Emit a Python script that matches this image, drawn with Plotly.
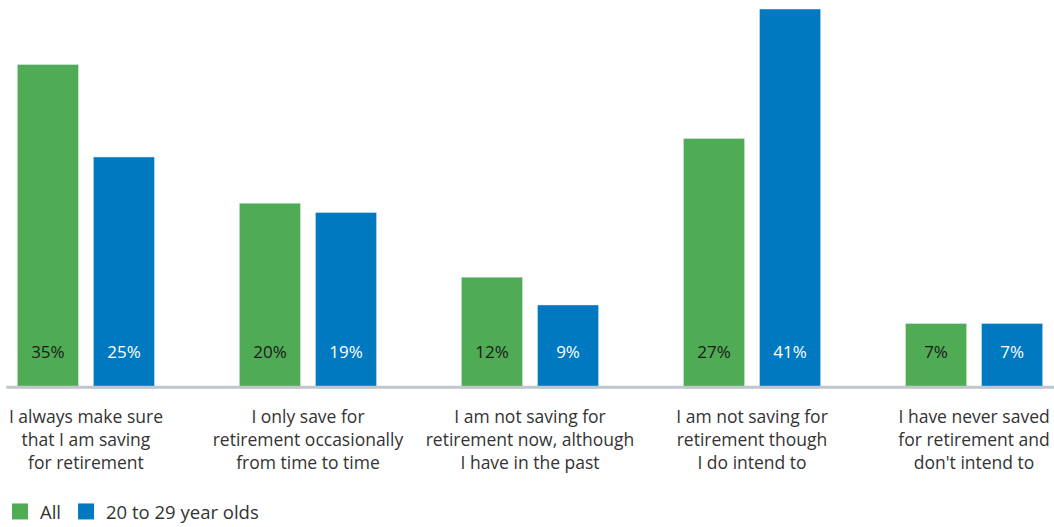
import plotly.graph_objects as go

categories = [
    "I always make sure<br>that I am saving<br>for retirement",
    "I only save for<br>retirement occasionally<br>from time to time",
    "I am not saving for<br>retirement now, although<br>I have in the past",
    "I am not saving for<br>retirement though<br>I do intend to",
    "I have never saved<br>for retirement and<br>don't intend to",
]
all_vals = [35, 20, 12, 27, 7]
young_vals = [25, 19, 9, 41, 7]

GREEN = "#50ab55"
BLUE = "#0079c1"
FONT = "Open Sans, sans-serif"

fig = go.Figure()
fig.add_trace(go.Bar(
    x=categories, y=all_vals, name="All", marker_color=GREEN, showlegend=False,
    text=[f"{v}%<br> " for v in all_vals], textposition="inside",
    insidetextanchor="start", textangle=0,
    insidetextfont=dict(color="#1a1a1a", size=17, family=FONT),
))
fig.add_trace(go.Bar(
    x=categories, y=young_vals, name="20 to 29 year olds", marker_color=BLUE,
    showlegend=False,
    text=[f"{v}%<br> " for v in young_vals], textposition="inside",
    insidetextanchor="start", textangle=0,
    insidetextfont=dict(color="white", size=17, family=FONT),
))
# legend entries with bigger square swatches
for name, col in [("All", GREEN), ("20 to 29 year olds", BLUE)]:
    fig.add_trace(go.Scatter(x=[None], y=[None], mode="markers", name=name,
                             marker=dict(symbol="square", size=16, color=col)))

# grey baseline
fig.add_shape(type="line", xref="paper", yref="y", x0=0.006, x1=1, y0=0.1, y1=0.1,
              line=dict(color="#c0c6cc", width=3), layer="above")

fig.update_layout(
    width=1054, height=527,
    margin=dict(l=0, r=0, t=9, b=137, autoexpand=False),
    barmode="group", bargap=0.315, bargroupgap=0.196,
    plot_bgcolor="white", paper_bgcolor="white",
    font=dict(family=FONT, size=17.5, color="#333333"),
    uniformtext=dict(minsize=10, mode="show"),
    xaxis=dict(range=[-0.387, 4.36], showgrid=False, zeroline=False,
               automargin=False,
               ticks="outside", ticklen=11, tickcolor="rgba(0,0,0,0)",
               tickfont=dict(size=17.5, color="#333333")),
    yaxis=dict(range=[-0.2, 41], visible=False, automargin=False),
    legend=dict(orientation="h", x=0.0, xanchor="left", y=-0.32, yanchor="middle",
                font=dict(size=18.5, color="#333333"), itemwidth=30,
                traceorder="normal"),
)

fig.write_html("out.html", config={"displayModeBar": False},
               post_script="document.body.style.margin='0';")
